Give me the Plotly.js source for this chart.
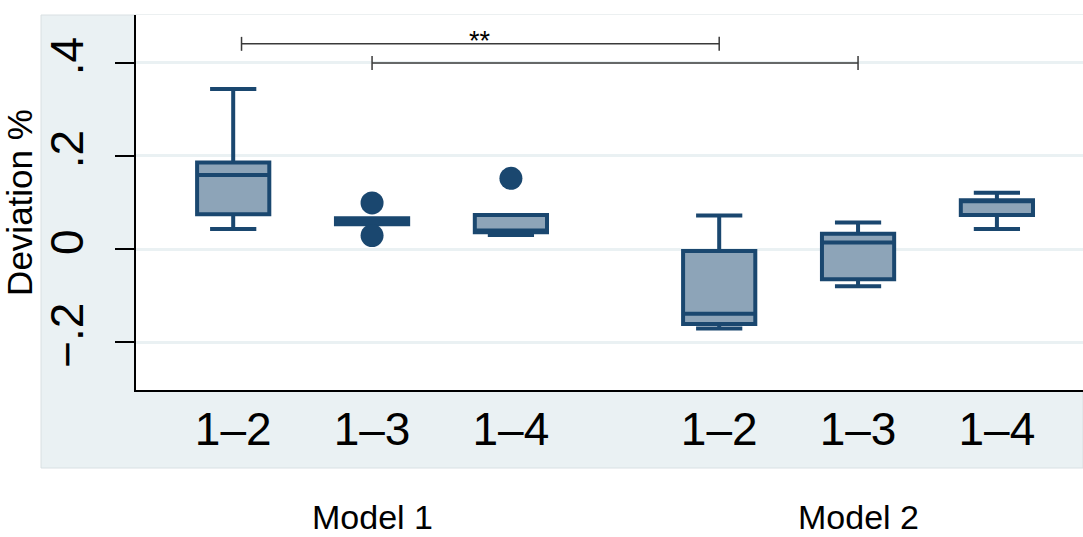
<!DOCTYPE html>
<html>
<head>
<meta charset="utf-8">
<script src="https://cdn.plot.ly/plotly-3.0.1.min.js"></script>
<style>html,body{margin:0;padding:0;background:#fff;}#chart{width:1083px;height:537px;}</style>
</head>
<body>
<div id="chart"></div>
<script>
// ---- data ----
const categories   = ['1–2', '1–3', '1–4', '1–2', '1–3', '1–4'];
const groups       = ['Model 1', 'Model 1', 'Model 1', 'Model 2', 'Model 2', 'Model 2'];
const positions    = [1, 2, 3, 4.5, 5.5, 6.5];
const lowerWhisker = [0.043, 0.053, 0.030, -0.171, -0.080, 0.043];
const q1Values     = [0.075, 0.053, 0.036, -0.161, -0.065, 0.073];
const medianValues = [0.159, 0.060, 0.040, -0.139, 0.014, 0.103];
const q3Values     = [0.186, 0.066, 0.073, -0.004, 0.033, 0.105];
const upperWhisker = [0.344, 0.066, 0.073, 0.072, 0.057, 0.121];
const outlierX     = [2, 2, 3];
const outlierY     = [0.099, 0.029, 0.152];
const yTickVals    = [-0.2, 0, 0.2, 0.4];
const yTickText    = ['−.2', '0', '.2', '.4'];
const groupNames   = ['Model 1', 'Model 2'];
const bracketFrom  = [1.06, 2];
const bracketTo    = [4.5, 5.5];
const bracketY     = [0.441, 0.40];
const bracketLabel = ['**', ''];

// ---- styling ----
const NAVY = '#1a476f';
const FILL = '#8da4b8';
const PANEL = '#eaf1f3';
const FONT = 'Liberation Sans, Arial, Helvetica, sans-serif';

const traces = [];
traces.push({
  type: 'box',
  x: positions,
  q1: q1Values,
  median: medianValues,
  q3: q3Values,
  lowerfence: lowerWhisker,
  upperfence: upperWhisker,
  width: 0.52,
  whiskerwidth: 0.64,
  boxpoints: false,
  fillcolor: FILL,
  line: {color: NAVY, width: 4},
  hoverinfo: 'skip',
  showlegend: false
});
traces.push({
  type: 'scatter',
  mode: 'markers',
  x: outlierX,
  y: outlierY,
  marker: {color: NAVY, size: 23},
  hoverinfo: 'skip',
  showlegend: false
});
// significance brackets
const tickHalf = 0.015;
const bx = [], by = [];
for (let i = 0; i < bracketFrom.length; i++) {
  const a = bracketFrom[i], b = bracketTo[i], y = bracketY[i];
  bx.push(a, a, null, a, b, null, b, b, null);
  by.push(y - tickHalf, y + tickHalf, null, y, y, null, y - tickHalf, y + tickHalf, null);
}
traces.push({
  type: 'scatter', mode: 'lines', x: bx, y: by,
  line: {color: '#3a3a3a', width: 1.5},
  hoverinfo: 'skip', showlegend: false, connectgaps: false
});

const annotations = [];
for (let i = 0; i < bracketFrom.length; i++) {
  if (!bracketLabel[i]) continue;
  annotations.push({
    x: (bracketFrom[i] + bracketTo[i]) / 2, y: bracketY[i], xref: 'x', yref: 'y',
    text: bracketLabel[i], showarrow: false, yanchor: 'bottom', yshift: -14,
    font: {family: FONT, size: 27, color: '#000'}
  });
}
groupNames.forEach(function (g) {
  const xs = positions.filter(function (p, i) { return groups[i] === g; });
  const c = xs.reduce(function (s, v) { return s + v; }, 0) / xs.length;
  annotations.push({
    x: c, y: -0.338, xref: 'x', yref: 'paper', text: g, showarrow: false,
    yanchor: 'middle', font: {family: FONT, size: 34, color: '#000'}
  });
});

const layout = {
  width: 1083, height: 537,
  margin: {l: 136, r: 0, t: 15, b: 147},
  paper_bgcolor: '#ffffff',
  plot_bgcolor: '#ffffff',
  font: {family: FONT, color: '#000'},
  showlegend: false,
  xaxis: {
    range: [0.30, 7.12],
    tickmode: 'array', tickvals: positions, ticktext: categories,
    ticks: '', showgrid: false, zeroline: false,
    showline: true, linecolor: '#000', linewidth: 2,
    tickfont: {family: FONT, size: 46, color: '#000'},
    ticklabelstandoff: -2
  },
  yaxis: {
    range: [-0.303, 0.503],
    tickmode: 'array', tickvals: yTickVals, ticktext: yTickText,
    tickangle: -90,
    ticks: 'outside', ticklen: 19, tickwidth: 2, tickcolor: '#000',
    showline: true, linecolor: '#000', linewidth: 2,
    showgrid: true, gridcolor: PANEL, gridwidth: 3,
    zeroline: false,
    tickfont: {family: FONT, size: 46, color: '#000'},
    ticklabelstandoff: 14,
    title: {text: 'Deviation %', font: {family: FONT, size: 35, color: '#000'}, standoff: 4}
  },
  shapes: [
    {type: 'rect', xref: 'paper', yref: 'paper', x0: -0.1003, x1: 1.0, y0: -0.208, y1: 1.0,
     fillcolor: PANEL, line: {color: '#d9e0e3', width: 1}, layer: 'below'},
    {type: 'rect', xref: 'paper', yref: 'paper', x0: 0, x1: 1, y0: 0, y1: 1,
     fillcolor: '#ffffff', line: {width: 0}, layer: 'below'}
  ],
  annotations: annotations
};

Plotly.newPlot('chart', traces, layout, {displayModeBar: false, staticPlot: true});
</script>
</body>
</html>
